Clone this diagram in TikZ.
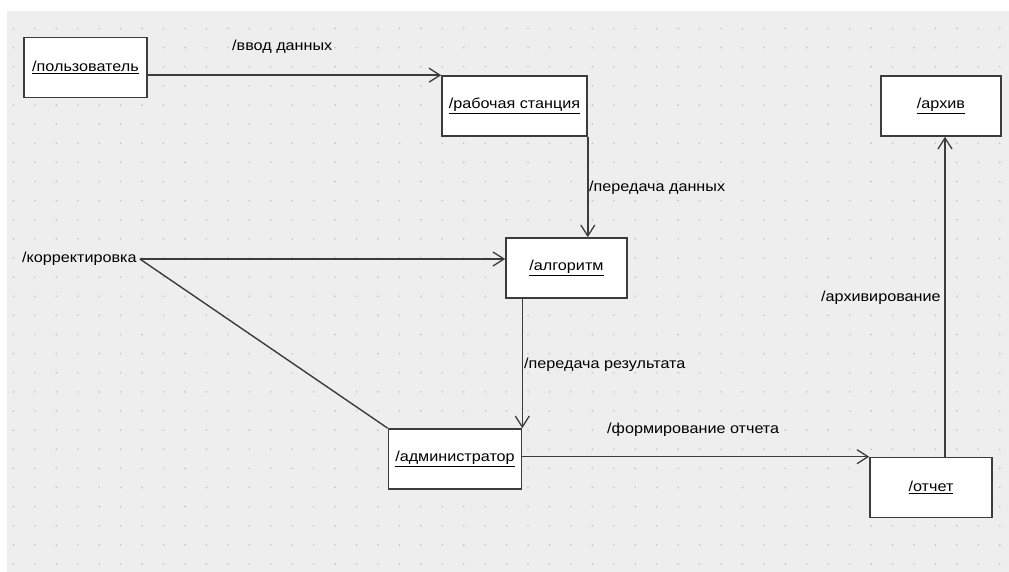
\documentclass[tikz,border=0pt]{standalone}
\usepackage{fontspec}
\setmainfont{Liberation Sans}[FakeStretch=1.12]
\usetikzlibrary{arrows.meta}
\definecolor{bg}{HTML}{EEEEEE}
\definecolor{dotc}{HTML}{C4C4C4}
\definecolor{ln}{HTML}{3C3C3C}
\tikzset{
  obj/.style={draw=ln, line width=1.6bp, fill=white, minimum height=60bp, inner sep=0pt,
    font=\fontsize{14.5}{17}\selectfont},
  lbl/.style={anchor=west, inner sep=0pt, font=\fontsize{14.5}{17}\selectfont},
  conn/.style={draw=ln, line width=1.4bp},
  arr/.style={conn, -{Straight Barb[length=11bp,width=14bp,line width=1.3bp]}}
}
\newcommand{\ul}[1]{\raisebox{2.5bp}{\underline{#1}}}
\begin{document}
\begin{tikzpicture}[x=1bp,y=-1bp]
\useasboundingbox (0,0) rectangle (1009,572);
\fill[white] (0,0) rectangle (1009,572);
\fill[bg] (7,11) rectangle (1009,572);
\foreach \i in {0,...,46}{
  \foreach \j in {0,...,28}{
    \fill[dotc] ({13.5+21.44*\i},{28.5+19.125*\j}) circle (0.9bp);
  }
}
% objects
\node[obj, minimum width=123bp] (user) at (85.5,67.5) {\ul{/пользователь}};
\node[obj, minimum width=145bp] (ws) at (514.5,106) {\ul{/рабочая станция}};
\node[obj, minimum width=121bp] (alg) at (566.5,268) {\ul{/алгоритм}};
\node[obj, minimum width=133bp] (adm) at (455,459) {\ul{/администратор}};
\node[obj, minimum width=122bp] (rep) at (931,487.5) {\ul{/отчет}};
\node[obj, minimum width=120bp] (arch) at (941,106) {\ul{/архив}};
% labels
\node[lbl] (kor) at (22,259) {/корректировка};
\node[lbl] (l1) at (232,47) {/ввод данных};
\node[lbl] (l2) at (589,188) {/передача данных};
\node[lbl] (l3) at (524,365) {/передача результата};
\node[lbl] (l4) at (607,430) {/формирование отчета};
\node[lbl] (l5) at (821,298) {/архивирование};
% connectors
\draw[arr] (user.east |- ws.north west) -- (ws.north west);
\draw[arr] (ws.south east) -- (ws.south east |- alg.north);
\draw[arr] ([xshift=3bp]kor.east) -- (alg.west |- kor.east);
\draw[conn] ([xshift=3bp]kor.east) -- (adm.north west);
\draw[arr] (adm.north east |- alg.south) -- (adm.north east);
\draw[arr] (adm.east |- rep.north west) -- (rep.north west);
\draw[arr] ([xshift=14bp]rep.north) -- ([xshift=14bp]rep.north |- arch.south);
\end{tikzpicture}
\end{document}
